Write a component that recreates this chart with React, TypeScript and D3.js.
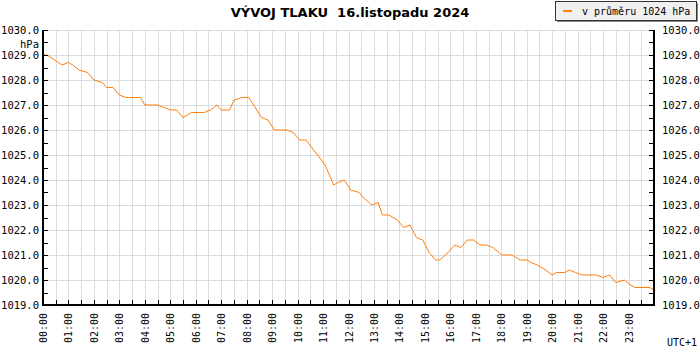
import { useEffect } from 'react';
import * as d3 from 'd3';

// pressure trace, vertices (minutes since midnight, hPa)
const minutes = [0, 10, 45, 60, 70, 85, 105, 120, 140, 150, 165, 180, 195, 230, 240, 270, 285, 300, 315, 330,
  350, 380, 395, 410, 420, 440, 450, 470, 485, 515, 530, 545, 575, 590, 605, 620, 665, 685, 695, 710,
  725, 745, 755, 775, 790, 800, 815, 835, 850, 865, 880, 895, 910, 925, 935, 955, 970, 985, 1000, 1015,
  1030, 1045, 1060, 1075, 1080, 1105, 1125, 1140, 1150, 1165, 1185, 1200, 1210, 1230, 1240, 1255, 1270, 1305, 1320, 1335,
  1350, 1370, 1385, 1395, 1430, 1440];
const pressure = [1029.0, 1029.0, 1028.6, 1028.7, 1028.6, 1028.4, 1028.3, 1028.0, 1027.9, 1027.7, 1027.7, 1027.4, 1027.3, 1027.3, 1027.0, 1027.0, 1026.9, 1026.8, 1026.8, 1026.5,
  1026.7, 1026.7, 1026.8, 1027.0, 1026.8, 1026.8, 1027.2, 1027.3, 1027.3, 1026.5, 1026.4, 1026.0, 1026.0, 1025.9, 1025.6, 1025.6, 1024.6, 1023.8, 1023.9, 1024.0,
  1023.6, 1023.5, 1023.3, 1023.0, 1023.1, 1022.6, 1022.6, 1022.4, 1022.1, 1022.2, 1021.7, 1021.6, 1021.1, 1020.8, 1020.8, 1021.1, 1021.4, 1021.3, 1021.6, 1021.6,
  1021.4, 1021.4, 1021.3, 1021.1, 1021.0, 1021.0, 1020.8, 1020.8, 1020.7, 1020.6, 1020.4, 1020.2, 1020.3, 1020.3, 1020.4, 1020.3, 1020.2, 1020.2, 1020.1, 1020.2,
  1019.9, 1020.0, 1019.8, 1019.7, 1019.7, 1019.6];

const hourLabels = d3.range(0, 24).map(h => `${String(h).padStart(2, '0')}:00`);
const pressureTicks = d3.range(1019, 1031);
const title = 'VÝVOJ TLAKU  16.listopadu 2024';
const legendText = 'v průměru 1024 hPa';

const W = 700, H = 350;
const margin = { top: 30, right: 46, bottom: 45, left: 43 };
const mono = '"DejaVu Sans Mono", monospace';

export default function App() {
  useEffect(() => { document.body.style.margin = '0'; }, []);

  const x = d3.scaleLinear().domain([0, 1440]).range([margin.left, W - margin.right]);
  const y = d3.scaleLinear().domain([1019, 1030]).range([H - margin.bottom, margin.top]);

  const line = d3.line<number>()
    .x((_, i) => x(minutes[i]))
    .y(d => y(d));

  const halfHours = d3.range(0, 1441, 30);
  const halfHpa = d3.range(1019, 1030.01, 0.5);
  const x0 = x(0), x1 = x(1440), y0 = y(1019), y1 = y(1030);

  return (
    <svg width={W} height={H} style={{ display: 'block', background: '#fff' }}>
      <text x={350} y={17} textAnchor="middle" fontFamily='"DejaVu Sans", sans-serif' fontWeight="bold" fontSize={13}
        style={{ whiteSpace: 'pre' }}>{title}</text>

      {/* legend */}
      <rect x={557} y={3} width={141} height={19} fill="#888" />
      <rect x={555.5} y={1.5} width={141} height={19} fill="#f0f0f0" stroke="#333" strokeWidth={1} />
      <line x1={563} x2={572} y1={11} y2={11} stroke="#ff7f0e" strokeWidth={2} />
      <text x={582} y={15} fontFamily={mono} fontSize={10} fill="#000">{legendText}</text>

      {/* grid */}
      <g stroke="#dcdcdc" strokeWidth={1}>
        {halfHours.map(m => (
          <line key={'v' + m} x1={Math.round(x(m)) + 0.5} x2={Math.round(x(m)) + 0.5} y1={y1} y2={y0} />
        ))}
        {pressureTicks.map(p => (
          <line key={'h' + p} x1={x0} x2={x1} y1={Math.round(y(p)) + 0.5} y2={Math.round(y(p)) + 0.5} />
        ))}
      </g>

      <path d={line(pressure) ?? ''} fill="none" stroke="#ff7f0e" strokeWidth={1} />

      {/* axes */}
      <g stroke="#000" strokeWidth={1}>
        {halfHpa.map(p => (
          <g key={'t' + p}>
            <line x1={x0} x2={x0 + 5} y1={Math.round(y(p)) + 0.5} y2={Math.round(y(p)) + 0.5} />
            <line x1={x1 - 5} x2={x1} y1={Math.round(y(p)) + 0.5} y2={Math.round(y(p)) + 0.5} />
          </g>
        ))}
        {halfHours.map(m => (
          <line key={'b' + m} x1={Math.round(x(m)) + 0.5} x2={Math.round(x(m)) + 0.5} y1={y0 - 5} y2={y0} />
        ))}
      </g>
      <g stroke="#000" strokeWidth={2}>
        <line x1={x0} x2={x0} y1={y1} y2={y0 + 1} />
        <line x1={x1} x2={x1} y1={y1} y2={y0 + 1} />
        <line x1={x0} x2={x1} y1={y0} y2={y0} />
      </g>

      <g fontFamily={mono} fontSize={10.5} fill="#000">
        {pressureTicks.map(p => (
          <text key={'l' + p} x={x0 - 4} y={y(p) + 4} textAnchor="end">{p.toFixed(1)}</text>
        ))}
        <text x={x0 - 4} y={y(1029.45) + 4} textAnchor="end">hPa</text>
        {pressureTicks.map(p => (
          <text key={'r' + p} x={x1 + 8} y={y(p) + 4}>{p.toFixed(1)}</text>
        ))}
      </g>
      <g fontFamily={mono} fontSize={10} fill="#000">
        {hourLabels.map((lab, i) => (
          <text key={lab} transform={`translate(${x(i * 60) + 4},${y0 + 8}) rotate(-90)`} textAnchor="end">{lab}</text>
        ))}
        <text x={697} y={346} textAnchor="end">UTC+1</text>
      </g>
    </svg>
  );
}
